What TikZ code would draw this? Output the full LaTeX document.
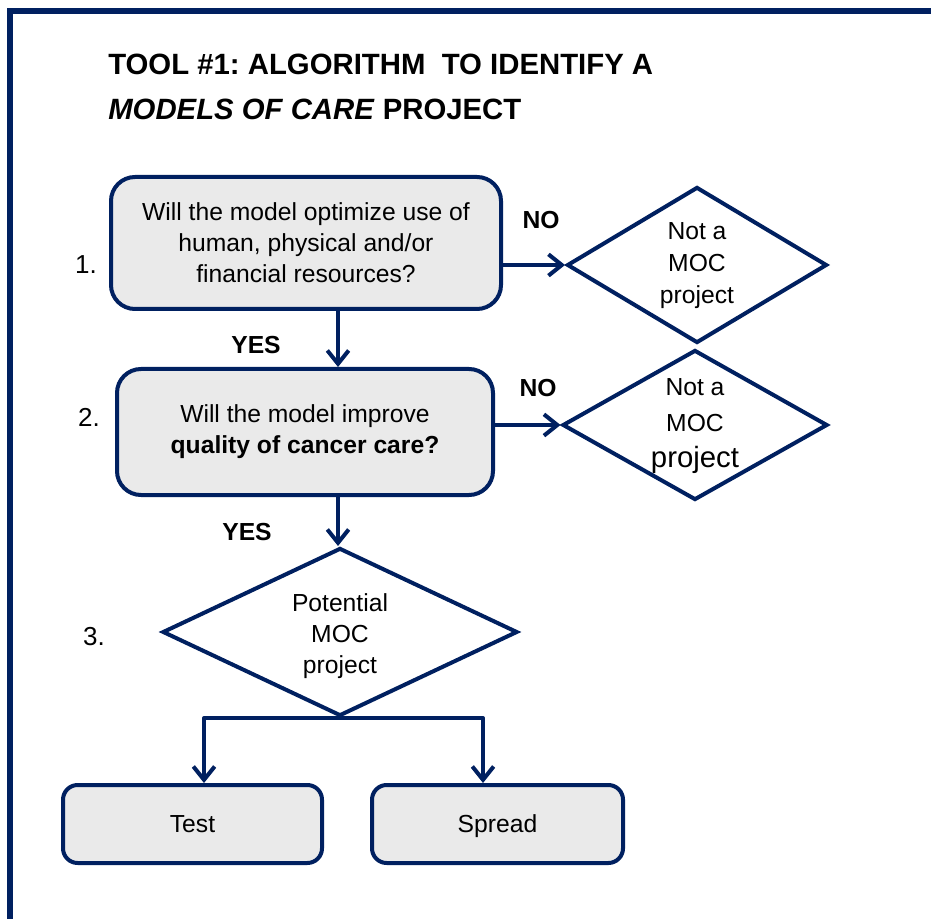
\documentclass[tikz,border=0pt]{standalone}
\usepackage{fontspec}
\setmainfont{Liberation Sans}
\usetikzlibrary{arrows.meta,shapes.geometric}
\definecolor{navy}{RGB}{0,32,96}
\definecolor{boxgray}{RGB}{234,234,234}
\def\px{0.75pt}
\frenchspacing
\begin{document}
\begin{tikzpicture}[x=0.75pt,y=-0.75pt,
  conn/.style={draw=navy,line width=3pt,line join=round,-{Straight Barb[length=10pt,width=16pt]}},
  qbox/.style={draw=navy,fill=boxgray,line width=3pt,rounded corners=18pt,align=center,font=\fontsize{18.5}{23.25}\selectfont,inner sep=0pt},
  endbox/.style={qbox,rounded corners=11pt,text height=13.25pt,text depth=0pt},
  dia/.style={diamond,draw=navy,line width=3pt,inner sep=0pt,fill=white},
  dtxt/.style={align=center,font=\fontsize{18.5}{24}\selectfont,inner sep=0pt},
  lbl/.style={font=\fontsize{18.5}{22}\selectfont\bfseries,inner sep=0pt},
  num/.style={font=\fontsize{19.5}{22}\selectfont,inner sep=0pt},
  ttl/.style={font=\fontsize{22}{26}\selectfont\bfseries,anchor=base west,inner sep=0pt}
]
\useasboundingbox (0,0) rectangle (931,919);
\fill[white] (0,0) rectangle (931,919);
\draw[navy,line width=4.5pt] (10,919) -- (10,11) -- (931,11);

\node[ttl] (t1) at (108,75) {TOOL \#1: ALGORITHM\ \ TO IDENTIFY A};
\node[ttl] (t2) at (108,120) {\textit{MODELS OF CARE} PROJECT};

\node[qbox,minimum width=390*\px,minimum height=132*\px] (b1) at (306,243)
  {Will the model optimize use of\\human, physical and/or\\financial resources?};
\node[qbox,minimum width=376*\px,minimum height=126*\px] (b2) at (305,432)
  {Will the model improve\\\textbf{quality of cancer care?}};

\node[dia,minimum width=260*\px,minimum height=156*\px] (d1) at (697,265) {};
\node[dtxt] (d1t) at (697,266) {Not a\\MOC\\project};
\node[dia,minimum width=265*\px,minimum height=150*\px] (d2) at (695,425) {};
\node[dtxt,font=\fontsize{18.5}{27}\selectfont] (d2t) at (695,426) {Not a\\MOC\\{\fontsize{22}{27}\selectfont project}};
\node[dia,minimum width=355*\px,minimum height=168*\px] (d3) at (340,632) {};
\node[dtxt,font=\fontsize{18.5}{23.25}\selectfont] (d3t) at (340,636) {Potential\\MOC\\project};

\node[endbox,minimum width=259*\px,minimum height=78*\px] (test) at (192.5,824) {Test};
\node[endbox,minimum width=251*\px,minimum height=78*\px] (spread) at (497.5,824) {Spread};

\node[num] (n1) at (86,265) {1.};
\node[num] (n2) at (89,417) {2.};
\node[num] (n3) at (94,637) {3.};
\node[lbl] (no1) at (541,220) {NO};
\node[lbl] (no2) at (538,388) {NO};
\node[lbl] (yes1) at (256,345) {YES};
\node[lbl] (yes2) at (247,532) {YES};

\draw[conn] (d1.west -| b1.east) -- (d1.west);
\draw[conn] (d2.west -| b2.east) -- (d2.west);
\draw[conn] ([xshift=-2*\px]b1.south -| d3.north) -- ([xshift=-2*\px]b2.north -| d3.north);
\draw[conn] ([xshift=-2*\px]b2.south -| d3.north) -- ([xshift=-2*\px]d3.north);
\draw[conn] (d3.south) -| ([xshift=11.5*\px]test.north);
\draw[conn] (d3.south) -| ([xshift=-14.5*\px]spread.north);
\end{tikzpicture}
\end{document}
